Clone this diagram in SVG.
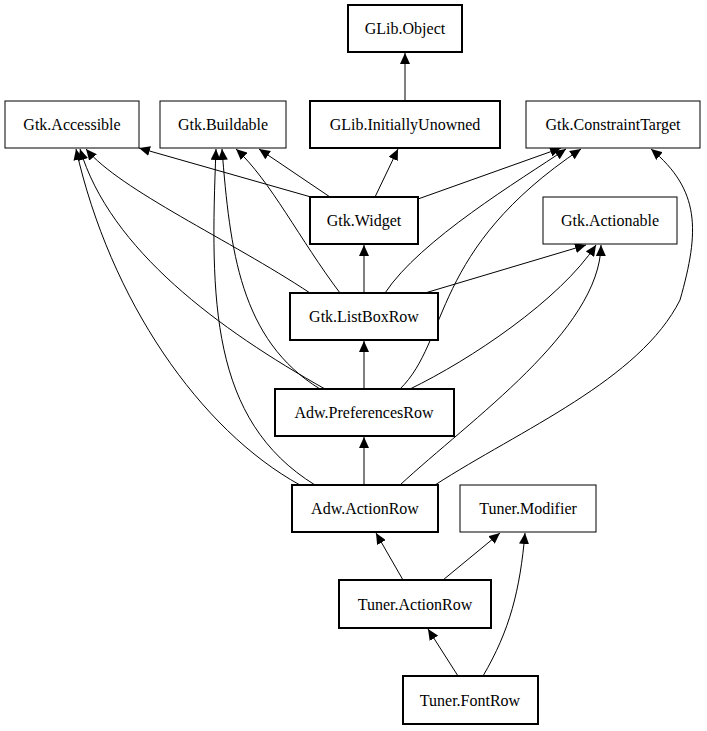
<svg xmlns="http://www.w3.org/2000/svg" width="707" height="731" viewBox="0 0 707 731">
<style>
.n rect{fill:#fff;stroke:#000;stroke-width:1}
.b rect{stroke-width:2}
text{font-family:"Liberation Serif",serif;font-size:16px;text-anchor:middle}
#edges path{fill:none;stroke:#000;stroke-width:1;marker-end:url(#a)}
</style>
<defs><marker id="a" markerUnits="userSpaceOnUse" markerWidth="12" markerHeight="10" refX="11" refY="5" orient="auto"><path d="M0,0L11,5L0,10z" fill="#000"/></marker></defs>
<rect width="707" height="731" fill="#fff"/>
<g id="edges">
<path d="M405,101L405,53"/>
<path d="M375,197L398,149"/>
<path d="M318,199L139,148"/>
<path d="M330,197L259,149"/>
<path d="M418,199L561,148"/>
<path d="M364,293L364,245"/>
<path d="M310,293C230,240 120,190 86,149"/>
<path d="M340,293C300,240 270,180 236,149"/>
<path d="M385,293C420,240 520,180 566,149"/>
<path d="M425,293L586,245"/>
<path d="M364,389L364,341"/>
<path d="M325,389C220,330 110,250 80,149"/>
<path d="M320,389C240,340 230,250 222,149"/>
<path d="M400,389C450,340 430,250 581,149"/>
<path d="M410,389C470,360 560,300 596,245"/>
<path d="M364,485L364,437"/>
<path d="M300,485C200,430 110,300 76,149"/>
<path d="M315,485C210,420 210,300 216,149"/>
<path d="M400,485C470,420 600,330 601,245"/>
<path d="M435,485C520,430 640,380 680,300C700,230 700,190 651,149"/>
<path d="M403,580L376,533"/>
<path d="M443,580L500,533"/>
<path d="M458,676L428,629"/>
<path d="M483,676C510,630 520,590 525,533"/>
</g>
<g id="GLib.Object" class="n b"><rect x="348" y="5" width="114" height="47"/><text x="405" y="34">GLib.Object</text></g>
<g id="Gtk.Accessible" class="n"><rect x="5" y="101" width="134" height="47"/><text x="72" y="130">Gtk.Accessible</text></g>
<g id="Gtk.Buildable" class="n"><rect x="160" y="101" width="126" height="47"/><text x="223" y="130">Gtk.Buildable</text></g>
<g id="GLib.InitiallyUnowned" class="n b"><rect x="310" y="101" width="190" height="47"/><text x="405" y="130">GLib.InitiallyUnowned</text></g>
<g id="Gtk.ConstraintTarget" class="n"><rect x="526" y="101" width="174" height="47"/><text x="613" y="130">Gtk.ConstraintTarget</text></g>
<g id="Gtk.Widget" class="n b"><rect x="310" y="197" width="108" height="47"/><text x="364" y="226">Gtk.Widget</text></g>
<g id="Gtk.Actionable" class="n"><rect x="543" y="197" width="134" height="47"/><text x="610" y="226">Gtk.Actionable</text></g>
<g id="Gtk.ListBoxRow" class="n b"><rect x="290" y="293" width="148" height="47"/><text x="364" y="322">Gtk.ListBoxRow</text></g>
<g id="Adw.PreferencesRow" class="n b"><rect x="275" y="389" width="179" height="47"/><text x="364" y="418">Adw.PreferencesRow</text></g>
<g id="Adw.ActionRow" class="n b"><rect x="292" y="485" width="146" height="47"/><text x="365" y="514">Adw.ActionRow</text></g>
<g id="Tuner.Modifier" class="n"><rect x="460" y="485" width="136" height="47"/><text x="528" y="514">Tuner.Modifier</text></g>
<g id="Tuner.ActionRow" class="n b"><rect x="339" y="580" width="152" height="48"/><text x="415" y="610">Tuner.ActionRow</text></g>
<g id="Tuner.FontRow" class="n b"><rect x="403" y="676" width="135" height="48"/><text x="470" y="706">Tuner.FontRow</text></g>
</svg>
